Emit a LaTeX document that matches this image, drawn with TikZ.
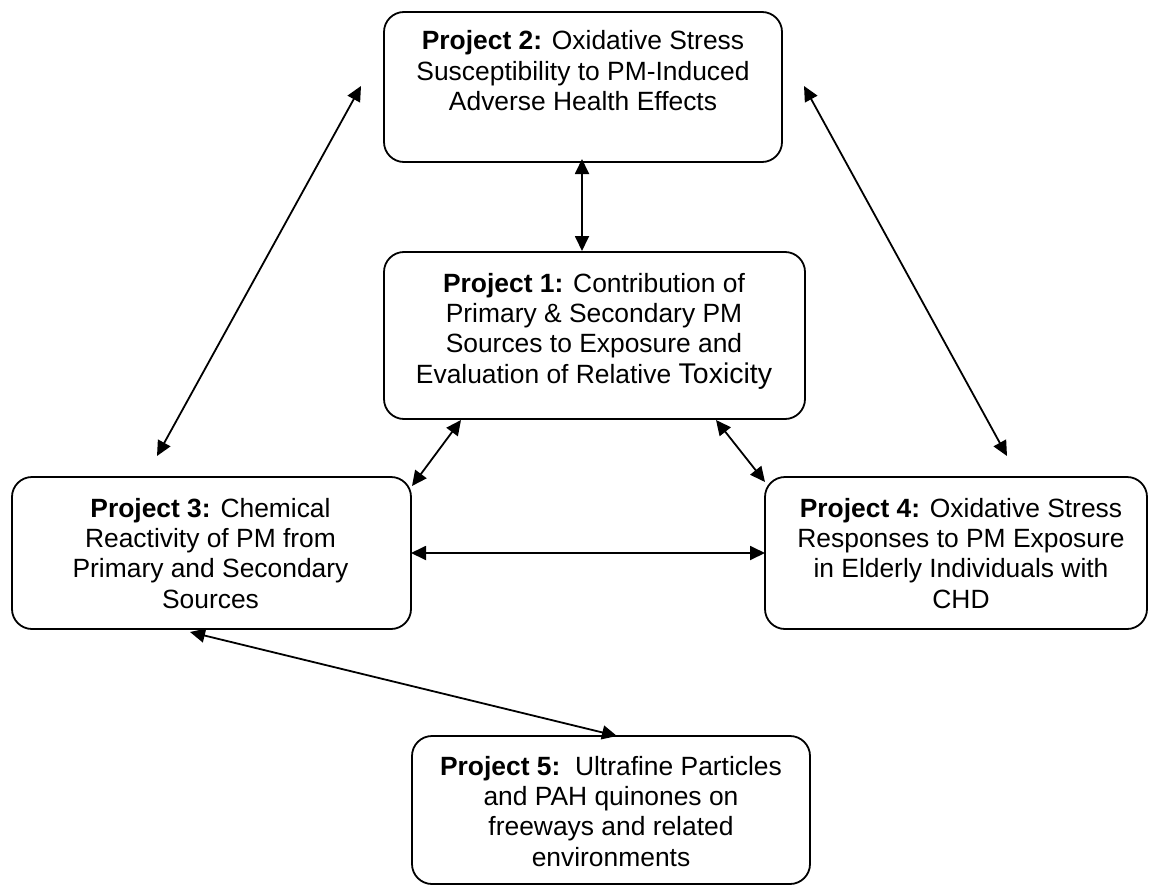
\documentclass[tikz,border=0pt]{standalone}
\usepackage{fontspec}
\setmainfont{Liberation Sans}
\usetikzlibrary{arrows.meta,calc}
\begin{document}
\begin{tikzpicture}[x=1pt,y=-1pt,
  box/.style={draw, line width=1.8pt, rounded corners=20pt, inner sep=0pt, outer sep=0pt, fill=white},
  txt/.style={align=center, inner sep=0pt, anchor=north, font=\fontsize{26.4}{30.3}\selectfont},
  arr/.style={line width=1.8pt, {Triangle[width=14pt,length=15pt]}-{Triangle[width=14pt,length=15pt]}}]
\useasboundingbox[fill=white] (0,0) rectangle (1149,886);
% boxes
\node[box, minimum width=398pt, minimum height=150pt] (p2) at (583,87) {};
\node[box, minimum width=421pt, minimum height=167pt] (p1) at (594.5,335.5) {};
\node[box, minimum width=399pt, minimum height=152pt] (p3) at (211.5,553) {};
\node[box, minimum width=382pt, minimum height=152pt] (p4) at (956,553) {};
\node[box, minimum width=398pt, minimum height=148pt] (p5) at (611,810) {};
% texts
\node[txt] (p2t) at (583,30.5) {\textbf{Project 2:} Oxidative Stress\\Susceptibility to PM-Induced\\Adverse Health Effects};
\node[txt] (p1t) at (594,273) {\textbf{Project 1:} Contribution of\\Primary \& Secondary PM\\Sources to Exposure and\\Evaluation of Relative {\fontsize{28.5}{30.3}\selectfont Toxicity}};
\node[txt] (p3t) at (210.5,498) {\textbf{Project 3:} Chemical\\Reactivity of PM from\\Primary and Secondary\\Sources};
\node[txt] (p4t) at (961,498) {\textbf{Project 4:} Oxidative Stress\\Responses to PM Exposure\\in Elderly Individuals with\\CHD};
\node[txt] (p5t) at (611,756) {\textbf{Project 5:}\ \ Ultrafine Particles\\and PAH quinones on\\freeways and related\\environments};
% connectors
\draw[arr] ($(p2.south)+(-1,-3)$) -- ($(p1.north)+(-12.5,-1)$);
\draw[arr] ($(p2.west)+(-23,-1)$) -- ($(p3.north)+(-54.5,-21)$);
\draw[arr] ($(p2.east)+(22,-1)$) -- ($(p4.north)+(51,-21)$);
\draw[arr] ($(p1.south)+(-133.5,1)$) -- ($(p3.north east)+(1,9)$);
\draw[arr] ($(p1.south)+(121.5,1)$) -- ($(p4.north west)+(0,5)$);
\draw[arr] (p3.east) -- (p4.west);
\draw[arr] ($(p3.south)+(-21.5,3)$) -- ($(p5.north)+(6,0)$);
\end{tikzpicture}
\end{document}
